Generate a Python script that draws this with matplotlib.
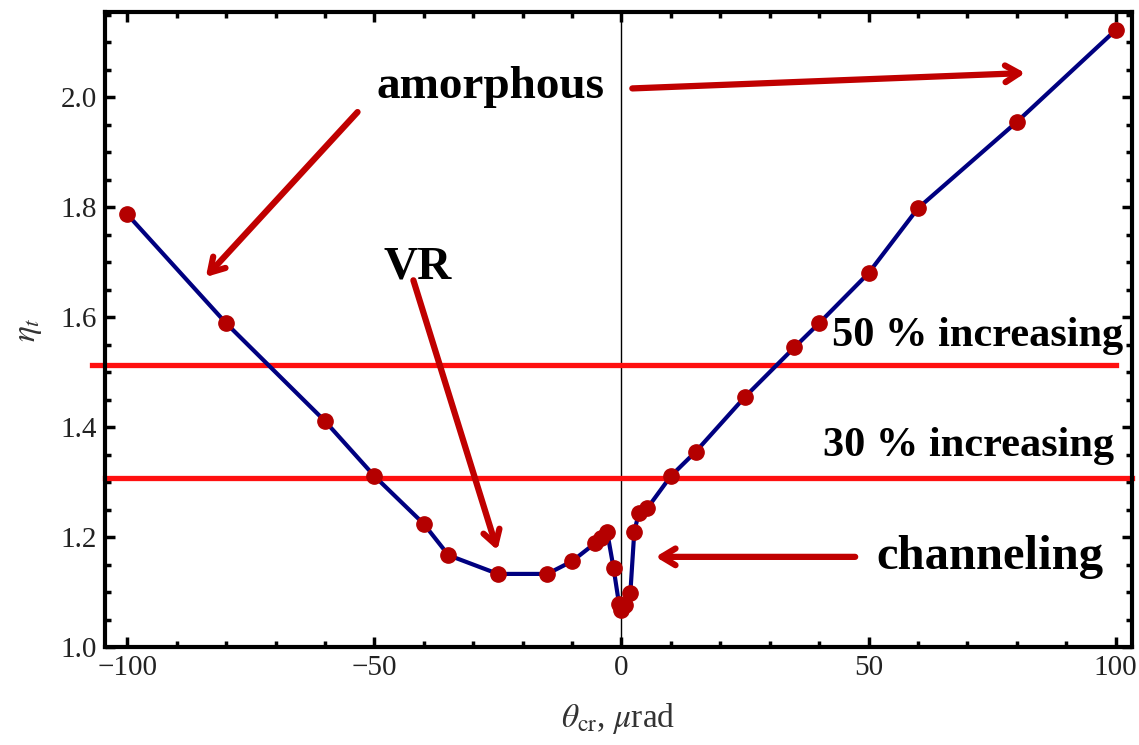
import matplotlib
matplotlib.use("Agg")
import matplotlib.pyplot as plt
from matplotlib.ticker import MultipleLocator

plt.rcParams['font.family'] = ['Liberation Serif', 'DejaVu Serif']
plt.rcParams['mathtext.fontset'] = 'stix'

# angle of crystal (urad) and eta_t
theta = [-100, -80, -60, -50, -40, -35, -25, -15, -10, -5.3, -4.2, -2.9, -1.6,
         -0.5, 0, 0.8, 1.8, 2.6, 3.5, 5.2, 10, 15, 25, 35, 40, 50, 60, 80, 100]
eta = [1.787, 1.589, 1.411, 1.311, 1.224, 1.167, 1.133, 1.133, 1.156, 1.189, 1.198,
       1.210, 1.144, 1.079, 1.067, 1.076, 1.098, 1.210, 1.243, 1.252, 1.311, 1.355,
       1.455, 1.545, 1.589, 1.680, 1.798, 1.955, 2.122]

level_50 = 1.513
level_30 = 1.307

red = '#C00000'

fig = plt.figure(figsize=(11.39, 7.45), dpi=100)
ax = fig.add_axes([0.0922, 0.1315, 0.9016, 0.8524])

ax.axvline(0, color='black', lw=1.0, zorder=1)
ax.plot(theta, eta, color='#000080', lw=3.0, marker='o', markersize=11,
        markerfacecolor='#B40000', markeredgecolor='#B40000', zorder=3)

ax.axhline(level_50, xmin=-0.013, xmax=0.984, color='#FF1010', lw=3.8, clip_on=False, zorder=2)
ax.axhline(level_30, xmin=0.0, xmax=1.0, color='#FF1010', lw=3.8, clip_on=False, zorder=2)

ax.set_xlim(-104.5, 103.3)
ax.set_ylim(1.0, 2.155)

ax.xaxis.set_major_locator(MultipleLocator(50))
ax.xaxis.set_minor_locator(MultipleLocator(10))
ax.yaxis.set_major_locator(MultipleLocator(0.2))
ax.yaxis.set_minor_locator(MultipleLocator(0.05))
ax.set_yticks([1.0, 1.2, 1.4, 1.6, 1.8, 2.0])
ax.set_yticklabels(['1.0', '1.2', '1.4', '1.6', '1.8', '2.0'])
ax.set_xticks([-100, -50, 0, 50, 100])
ax.set_xticklabels(['\u2212100', '\u221250', '0', '50', '100'])

ax.tick_params(which='both', direction='in', top=True, right=True, width=2.5,
               labelsize=21, labelcolor='#222222')
ax.tick_params(which='major', length=7, pad=6)
ax.tick_params(which='minor', length=4)
for s in ax.spines.values():
    s.set_linewidth(3)

ax.set_xlabel(r'$\theta_{\rm cr}$, $\mu$rad', fontsize=24, color='#333333', labelpad=14)
ax.set_ylabel(r'$\eta_t$', fontsize=24, color='#333333', labelpad=12)

arrow = dict(arrowstyle='->,head_length=1.0,head_width=0.6', color=red, lw=4.5,
             shrinkA=0, shrinkB=0, capstyle='round', joinstyle='round')
ax.annotate('', xy=(-84.1, 1.673), xytext=(-53.4, 1.973), arrowprops=arrow)
ax.annotate('', xy=(81.7, 2.044), xytext=(2.2, 2.016), arrowprops=arrow)
ax.annotate('', xy=(-25.1, 1.176), xytext=(-42.1, 1.667), arrowprops=arrow)
ax.annotate('', xy=(6.9, 1.164), xytext=(47.3, 1.164), arrowprops=arrow)

ax.text(-26.5, 2.018, 'amorphous', fontsize=34, fontweight='bold', ha='center', va='center')
ax.text(-41.3, 1.69, 'VR', fontsize=34, fontweight='bold', ha='center', va='center')
ax.text(74.6, 1.163, 'channeling', fontsize=35, fontweight='bold', ha='center', va='center')
ax.text(72.1, 1.565, '50 % increasing', fontsize=30.5, fontweight='bold', ha='center', va='center')
ax.text(70.3, 1.366, '30 % increasing', fontsize=30.5, fontweight='bold', ha='center', va='center')

fig.savefig('out.png', dpi=100)
